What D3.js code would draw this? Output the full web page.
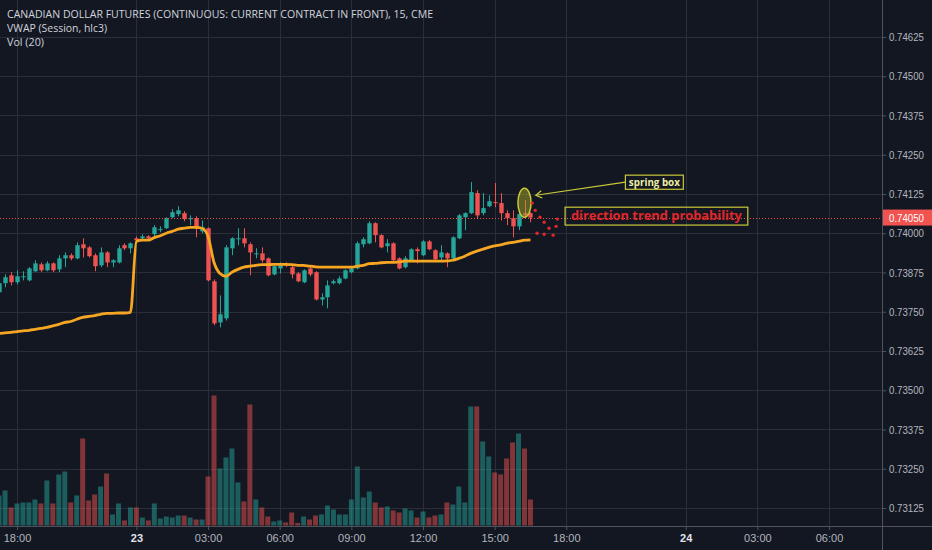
<!DOCTYPE html>
<html><head><meta charset="utf-8">
<script src="https://cdn.jsdelivr.net/npm/d3@7"></script>
<style>html,body{margin:0;padding:0;background:#131722;overflow:hidden}</style>
</head><body><svg id="c" width="932" height="550"></svg>
<script>
// ---------- DATA ----------
const startIndex = -3; // bar index of first candle (index 0 = 18:00)
const open = [
.73812,.73841,.73866,.73844,.73860,.73850,.73879,.73901,.73882,.73904,
.73885,.73920,.73930,.73920,.73965,.73955,.73930,.73898,.73939,.73907,
.73907,.73962,.73952,.73984,.73984,.73990,.73997,.74010,.74016,.74051,
.74061,.74064,.74045,.74048,.74006,.74016,.73847,.73716,.73729,.73952,
.73981,.73984,.73965,.73933,.73936,.73920,.73869,.73888,.73901,.73892,
.73872,.73844,.73888,.73876,.73789,.73796,.73841,.73841,.73856,.73876,
.73888,.73965,.73968,.74032,.73994,.73959,.73968,.73920,.73892,.73914,
.73949,.73930,.73974,.73946,.73923,.73936,.73920,.73984,.74051,.74064,
.74128,.74064,.74086,.74099,.74096,.74064,.74048,.74022,.74064,.74064];
const high = [
.73850,.73869,.73876,.73882,.73879,.73892,.73914,.73907,.73911,.73907,
.73930,.73939,.73936,.73971,.73984,.73959,.73936,.73955,.73943,.73917,
.73962,.73968,.73971,.73990,.73997,.73994,.74026,.74022,.74051,.74077,
.74086,.74070,.74057,.74054,.74041,.74019,.73853,.73802,.73962,.73987,
.74016,.74016,.73971,.73952,.73955,.73923,.73898,.73907,.73907,.73898,
.73876,.73885,.73892,.73879,.73809,.73850,.73853,.73863,.73885,.73895,
.73974,.73987,.74038,.74035,.73997,.73981,.73971,.73923,.73927,.73952,
.73955,.73978,.73978,.73949,.73962,.73939,.73990,.74061,.74067,.74163,
.74137,.74128,.74121,.74160,.74128,.74073,.74073,.74064,.74105,.74067];
const low = [
.73793,.73828,.73834,.73837,.73850,.73847,.73876,.73876,.73879,.73876,
.73876,.73892,.73914,.73917,.73923,.73923,.73879,.73892,.73892,.73892,
.73904,.73946,.73936,.73974,.73981,.73981,.73990,.74003,.74013,.74048,
.74054,.74038,.74026,.73987,.74000,.73847,.73707,.73700,.73722,.73930,
.73962,.73955,.73866,.73920,.73907,.73863,.73866,.73872,.73892,.73856,
.73844,.73841,.73863,.73786,.73770,.73761,.73837,.73837,.73853,.73872,
.73885,.73955,.73965,.73971,.73952,.73939,.73911,.73885,.73888,.73911,
.73904,.73927,.73946,.73914,.73914,.73892,.73917,.73981,.74010,.74061,
.74045,.74057,.74083,.74083,.74041,.74026,.73987,.74010,.74048,.74035];
const close = [
.73841,.73860,.73844,.73863,.73863,.73888,.73904,.73882,.73904,.73882,
.73920,.73930,.73920,.73962,.73952,.73927,.73895,.73939,.73907,.73914,
.73952,.73952,.73968,.73978,.73990,.73984,.74019,.74013,.74048,.74067,
.74073,.74045,.74048,.74016,.74019,.73850,.73713,.73742,.73955,.73984,
.73984,.73968,.73939,.73936,.73914,.73866,.73895,.73898,.73898,.73869,
.73847,.73882,.73869,.73789,.73796,.73834,.73847,.73856,.73882,.73888,
.73968,.73981,.74032,.73994,.73955,.73968,.73914,.73888,.73920,.73949,
.73943,.73974,.73949,.73917,.73939,.73920,.73987,.74057,.74064,.74131,
.74057,.74080,.74102,.74096,.74064,.74048,.74022,.74061,.74057,.74050];
const volume = [
900,1050,540,660,690,690,780,660,1350,660,
1530,1620,690,900,2610,750,930,1170,1560,330,
660,150,540,540,240,150,660,210,270,240,
300,300,240,180,180,1470,3900,1710,2040,2310,
1290,720,3630,780,540,270,120,150,90,390,
75,270,180,300,330,600,480,330,330,780,
1770,840,1020,690,540,570,450,390,510,450,
240,420,240,300,330,690,630,1170,690,3570,
3570,2520,2070,1590,1530,2010,2490,2760,2310,780];
const vwap = [
.73681,.73683,.73684,.73687,.73689,.73691,.73694,.73697,.73700,.73705,
.73710,.73716,.73719,.73726,.73732,.73735,.73738,.73742,.73745,.73745,
.73746,.73746,.73748,.73974,.73978,.73978,.73986,.73992,.74000,.74006,
.74013,.74016,.74019,.74019,.74016,.73990,.73907,.73872,.73863,.73876,
.73885,.73892,.73895,.73898,.73900,.73900,.73901,.73901,.73901,.73900,
.73898,.73898,.73895,.73893,.73892,.73892,.73892,.73892,.73892,.73892,
.73895,.73898,.73903,.73904,.73906,.73907,.73907,.73909,.73911,.73911,
.73911,.73911,.73911,.73911,.73911,.73912,.73914,.73920,.73927,.73936,
.73943,.73949,.73955,.73960,.73963,.73968,.73971,.73974,.73978,.73979];

const priceTicks = [0.73125,0.73250,0.73375,0.73500,0.73625,0.73750,0.73875,0.74000,0.74125,0.74250,0.74375,0.74500,0.74625];
const timeTickIndex  = [0, 20, 32, 44, 56, 68, 80, 92, 112, 124, 136];
const timeTickLabels = ["18:00","23","03:00","06:00","09:00","12:00","15:00","18:00","24","03:00","06:00"];
const timeTickBold   = [false,true,false,false,false,false,false,false,true,false,false];
const lastPrice = 0.74050;

const titleText = "CANADIAN DOLLAR FUTURES (CONTINUOUS: CURRENT CONTRACT IN FRONT), 15, CME";
const studyLabels = ["VWAP (Session, hlc3)", "Vol (20)"];

// annotations (bar index, price)
const springEllipse = {i: 85.0, p: 0.74097, ri: 1.1, rp: 0.00046};
const springBox = {i0: 101.9, i1: 111.6, p0: 0.74185, p1: 0.74140, text: "spring box"};
const springArrow = {from: [101.9, 0.74163], to: [86.9, 0.74121]};
const dirBox = {i0: 91.8, i1: 122.4, p0: 0.74083, p1: 0.74026, text: "direction trend probability"};
const projectionDots = [[86.3,0.74096],[86.8,0.74073],[87.6,0.74051],[88.3,0.74035],[89.1,0.74016],
  [90.3,0.74022],[89.8,0.73994],[88.3,0.73997],[87.1,0.74000],[90.5,0.74045]];

// ---------- CHART ----------
const W = 932, H = 550, plotR = 882, axisY = 526;
const UP = "#26a69a", DOWN = "#ef5350";
const bars = open.map((o, k) => ({i: startIndex + k, o, h: high[k], l: low[k], c: close[k], v: volume[k], w: vwap[k]}));

const x = d3.scaleLinear().domain([0, 136]).range([17, 829]);
const y = d3.scaleLinear().domain([0.73125, 0.74625]).range([508, 37]);
const yv = d3.scaleLinear().domain([0, 5000]).range([525.5, 358.8]);
const step = x(1) - x(0);

const svg = d3.select("#c");
svg.append("rect").attr("width", W).attr("height", H).attr("fill", "#131722");
svg.append("defs").append("clipPath").attr("id", "clip")
  .append("rect").attr("x", 0).attr("y", 0).attr("width", plotR).attr("height", axisY);

const grid = svg.append("g").attr("stroke", "#2a2e39").attr("stroke-width", 1);
grid.selectAll("line.h").data(priceTicks).join("line")
  .attr("x1", 0).attr("x2", plotR).attr("y1", d => Math.round(y(d)) + 0.5).attr("y2", d => Math.round(y(d)) + 0.5);
grid.selectAll("line.v").data(timeTickIndex).join("line")
  .attr("y1", 0).attr("y2", axisY).attr("x1", d => Math.round(x(d)) + 0.5).attr("x2", d => Math.round(x(d)) + 0.5);

const plot = svg.append("g").attr("clip-path", "url(#clip)");

// volume
plot.append("g").selectAll("rect").data(bars).join("rect")
  .attr("x", d => x(d.i) - step / 2 + 0.5).attr("width", step - 1)
  .attr("y", d => yv(d.v)).attr("height", d => yv(0) - yv(d.v))
  .attr("fill", d => d.c >= d.o ? UP : DOWN).attr("fill-opacity", 0.5);

// candles
const cg = plot.append("g");
cg.selectAll("line").data(bars).join("line")
  .attr("x1", d => Math.round(x(d.i)) + 0.5).attr("x2", d => Math.round(x(d.i)) + 0.5)
  .attr("y1", d => y(d.h)).attr("y2", d => y(d.l))
  .attr("stroke", d => d.c >= d.o ? UP : DOWN).attr("stroke-width", 1);
cg.selectAll("rect").data(bars).join("rect")
  .attr("x", d => Math.round(x(d.i)) + 0.5 - 2.2).attr("width", 4.4)
  .attr("y", d => y(Math.max(d.o, d.c))).attr("height", d => Math.max(1, Math.abs(y(d.o) - y(d.c))))
  .attr("fill", d => d.c >= d.o ? UP : DOWN);

// VWAP
plot.append("path").datum(bars)
  .attr("d", d3.line().x(d => x(d.i)).y(d => y(d.w)).curve(d3.curveMonotoneX))
  .attr("fill", "none").attr("stroke", "#f7a623").attr("stroke-width", 2.8).attr("stroke-linejoin", "round");

// last price line
plot.append("line").attr("x1", 0).attr("x2", plotR)
  .attr("y1", Math.round(y(lastPrice)) + 0.5).attr("y2", Math.round(y(lastPrice)) + 0.5)
  .attr("stroke", DOWN).attr("stroke-width", 1).attr("stroke-dasharray", "1,2");

// annotations
const ann = svg.append("g");
ann.append("ellipse")
  .attr("cx", x(springEllipse.i)).attr("cy", y(springEllipse.p))
  .attr("rx", x(springEllipse.ri) - x(0)).attr("ry", y(0) - y(springEllipse.rp))
  .attr("fill", "rgba(170,170,40,0.5)").attr("stroke", "#c9c93a").attr("stroke-width", 1.5);
ann.selectAll("circle").data(projectionDots).join("circle")
  .attr("cx", d => x(d[0])).attr("cy", d => y(d[1])).attr("r", 1.7).attr("fill", "#e0282a");

const ax0 = x(springArrow.from[0]), ay0 = y(springArrow.from[1]);
const ax1 = x(springArrow.to[0]), ay1 = y(springArrow.to[1]);
ann.append("line").attr("x1", ax0).attr("y1", ay0).attr("x2", ax1).attr("y2", ay1)
  .attr("stroke", "#c9c93a").attr("stroke-width", 1.2);
const ang = Math.atan2(ay0 - ay1, ax0 - ax1);
const head = [ang + 0.55, ang - 0.55].map(a => [ax1 + 7 * Math.cos(a), ay1 + 7 * Math.sin(a)]);
ann.append("path").attr("d", `M${head[0][0]},${head[0][1]}L${ax1},${ay1}L${head[1][0]},${head[1][1]}`)
  .attr("fill", "none").attr("stroke", "#c9c93a").attr("stroke-width", 1.3);

ann.append("rect").attr("x", x(springBox.i0)).attr("y", y(springBox.p0))
  .attr("width", x(springBox.i1) - x(springBox.i0)).attr("height", y(springBox.p1) - y(springBox.p0))
  .attr("fill", "#131722").attr("stroke", "#c9c93a").attr("stroke-width", 1.2);
ann.append("text").attr("x", (x(springBox.i0) + x(springBox.i1)) / 2).attr("y", (y(springBox.p0) + y(springBox.p1)) / 2 + 3.5)
  .attr("text-anchor", "middle").attr("font-family", "'Open Sans', sans-serif").attr("font-weight", "bold")
  .attr("font-size", 10).attr("fill", "#eeeea6").attr("textLength", 51).attr("lengthAdjust", "spacingAndGlyphs")
  .text(springBox.text);

ann.append("rect").attr("x", x(dirBox.i0)).attr("y", y(dirBox.p0))
  .attr("width", x(dirBox.i1) - x(dirBox.i0)).attr("height", y(dirBox.p1) - y(dirBox.p0))
  .attr("fill", "none").attr("stroke", "#c9c93a").attr("stroke-width", 1.2);
ann.append("text").attr("x", (x(dirBox.i0) + x(dirBox.i1)) / 2).attr("y", (y(dirBox.p0) + y(dirBox.p1)) / 2 + 4)
  .attr("text-anchor", "middle").attr("font-family", "'Open Sans', sans-serif").attr("font-weight", "bold")
  .attr("font-size", 12).attr("fill", "#e0282a").attr("textLength", 171).attr("lengthAdjust", "spacingAndGlyphs")
  .text(dirBox.text);

// axes
svg.append("line").attr("x1", plotR + 0.5).attr("x2", plotR + 0.5).attr("y1", 0).attr("y2", H).attr("stroke", "#50535e");
svg.append("line").attr("x1", 0).attr("x2", W).attr("y1", axisY + 0.5).attr("y2", axisY + 0.5).attr("stroke", "#50535e");

const yAxis = svg.append("g").attr("transform", `translate(${plotR},0)`)
  .call(d3.axisRight(y).tickValues(priceTicks).tickFormat(d3.format(".5f")).tickSize(4).tickPadding(3));
yAxis.select(".domain").remove();
yAxis.selectAll("line").attr("stroke", "#50535e");
yAxis.selectAll("text").attr("fill", "#b2b5be").attr("font-family", "'Liberation Sans', Arial, sans-serif")
  .attr("font-size", 11).attr("textLength", 35).attr("lengthAdjust", "spacingAndGlyphs");

const xAxis = svg.append("g").attr("transform", `translate(0,${axisY})`)
  .call(d3.axisBottom(x).tickValues(timeTickIndex).tickFormat((d, k) => timeTickLabels[k]).tickSize(4).tickPadding(4));
xAxis.select(".domain").remove();
xAxis.selectAll("line").attr("stroke", "#50535e");
xAxis.selectAll("text")
  .attr("fill", (d, k) => timeTickBold[k] ? "#e0e3eb" : "#b2b5be")
  .attr("font-weight", (d, k) => timeTickBold[k] ? "bold" : "normal")
  .attr("font-family", "'Liberation Sans', Arial, sans-serif").attr("font-size", 11);

// last price label
const ly = y(lastPrice);
svg.append("rect").attr("x", plotR + 1).attr("y", ly - 8).attr("width", W - plotR - 1).attr("height", 16).attr("fill", "#f05350");
svg.append("text").attr("x", plotR + 7).attr("y", ly + 4).attr("fill", "#ffffff")
  .attr("font-family", "'Liberation Sans', Arial, sans-serif").attr("font-size", 11)
  .attr("textLength", 35).attr("lengthAdjust", "spacingAndGlyphs").text(d3.format(".5f")(lastPrice));

// legend texts
const tg = svg.append("g").attr("font-family", "'Open Sans', sans-serif").attr("fill", "#d1d4dc");
tg.append("text").attr("x", 7).attr("y", 18).attr("font-size", 10)
  .attr("textLength", 426).attr("lengthAdjust", "spacingAndGlyphs").text(titleText);
tg.append("text").attr("x", 7).attr("y", 32).attr("font-size", 10)
  .attr("textLength", 100).attr("lengthAdjust", "spacingAndGlyphs").text(studyLabels[0]);
tg.append("text").attr("x", 7).attr("y", 46).attr("font-size", 10)
  .attr("textLength", 37).attr("lengthAdjust", "spacingAndGlyphs").text(studyLabels[1]);
</script></body></html>
